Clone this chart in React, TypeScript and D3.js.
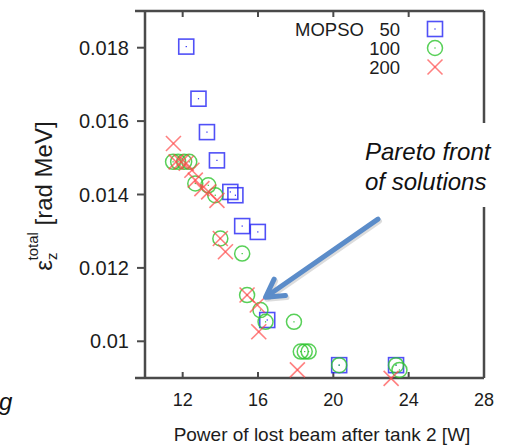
import React from 'react';
import * as d3 from 'd3';

// MOPSO runs with 50 / 100 / 200 particles
const seriesNames = ['50', '100', '200'];

const powerLoss50 = [12.19, 12.84, 13.29, 13.82, 14.53, 14.8, 15.16, 15.99, 16.49, 20.31, 23.33];
const emittance50 = [0.01803, 0.01661, 0.0157, 0.01493, 0.01407, 0.01398, 0.01314, 0.01298, 0.01058, 0.00935, 0.00935];

const powerLoss100 = [11.49, 11.76, 12.08, 12.35, 12.67, 13.36, 13.73, 14.0, 15.16, 15.42, 16.13, 16.4, 17.91, 18.27, 18.48, 18.69, 20.31, 23.33, 23.51];
const emittance100 = [0.01489, 0.01489, 0.01489, 0.01489, 0.0143, 0.01425, 0.01398, 0.0128, 0.01239, 0.01126, 0.01085, 0.01053, 0.01053, 0.00972, 0.00972, 0.00972, 0.00935, 0.00935, 0.00922];

const powerLoss200 = [11.51, 11.65, 11.92, 12.19, 12.49, 12.67, 13.02, 13.38, 13.82, 14.0, 14.27, 15.42, 15.96, 16.04, 18.09, 23.07];
const emittance200 = [0.01539, 0.01489, 0.01489, 0.01485, 0.01466, 0.01439, 0.01416, 0.01407, 0.01384, 0.0128, 0.01244, 0.01126, 0.01099, 0.01026, 0.00922, 0.00899];

const xTicks = [12, 16, 20, 24, 28];
const yTicks = [0.01, 0.012, 0.014, 0.016, 0.018];

const W = 519;
const H = 446;
const left = 145, right = 484, top = 11, bottom = 378;

const x = d3.scaleLinear().domain([10, 28]).range([left, right]);
const y = d3.scaleLinear().domain([0.009, 0.019]).range([bottom, top]);

const colors = ['#2424f5', '#2ec42e', '#ff4a4a'];
const font = '"Liberation Sans", Arial, sans-serif';

function Marker({ kind, cx, cy }: { kind: number; cx: number; cy: number }) {
  const s = 7.5;
  if (kind === 0) {
    return (
      <g stroke={colors[0]} strokeOpacity={0.8} fill="none" strokeWidth={1.6}>
        <rect x={cx - s} y={cy - s} width={2 * s} height={2 * s} />
        <rect x={cx - 0.6} y={cy - 0.6} width={1.2} height={1.2} fill={colors[0]} stroke="none" />
      </g>
    );
  }
  if (kind === 1) {
    return (
      <g stroke={colors[1]} strokeOpacity={0.8} fill="none" strokeWidth={1.5}>
        <circle cx={cx} cy={cy} r={s} />
        <rect x={cx - 0.6} y={cy - 0.6} width={1.2} height={1.2} fill={colors[1]} stroke="none" />
      </g>
    );
  }
  return (
    <g stroke={colors[2]} strokeOpacity={0.7} strokeWidth={1.6}>
      <line x1={cx - s} y1={cy - s} x2={cx + s} y2={cy + s} />
      <line x1={cx - s} y1={cy + s} x2={cx + s} y2={cy - s} />
    </g>
  );
}

export default function App() {
  const series = [
    { xs: powerLoss50, ys: emittance50 },
    { xs: powerLoss100, ys: emittance100 },
    { xs: powerLoss200, ys: emittance200 },
  ];

  // arrow annotation, in data coordinates
  const tipX = x(16.4), tipY = y(0.0112);
  const tailX = x(22.37), tailY = y(0.01333);
  const ang = Math.atan2(tailY - tipY, tailX - tipX);
  const hl = 20, ha = 0.52;
  const h1 = [tipX + hl * Math.cos(ang - ha), tipY + hl * Math.sin(ang - ha)];
  const h2 = [tipX + hl * Math.cos(ang + ha), tipY + hl * Math.sin(ang + ha)];

  const frame = '#4a4a4a';

  return (
    <svg width={W} height={H} style={{ position: 'absolute', left: 0, top: 0, background: '#fff' }} fontFamily={font}>
      {/* frame */}
      <g stroke={frame} strokeWidth={2.5} fill="none">
        <line x1={135} y1={top} x2={right} y2={top} />
        <line x1={135} y1={bottom} x2={right} y2={bottom} />
        <line x1={left} y1={top} x2={left} y2={bottom} />
        <line x1={right} y1={top} x2={right} y2={bottom} />
      </g>
      {/* ticks */}
      <g stroke={frame} strokeWidth={2}>
        {xTicks.slice(0, -1).map((t) => (
          <g key={t}>
            <line x1={x(t)} x2={x(t)} y1={bottom} y2={bottom - 6} />
            <line x1={x(t)} x2={x(t)} y1={top} y2={top + 6} />
          </g>
        ))}
        {yTicks.map((t) => (
          <line key={t} x1={left - 8} x2={left} y1={y(t)} y2={y(t)} />
        ))}
      </g>
      <g fill="#1c1c1c" fontSize={18} textAnchor="middle">
        {xTicks.map((t) => (
          <text key={t} x={x(t)} y={406}>{t}</text>
        ))}
      </g>
      <g fill="#1c1c1c" fontSize={20} textAnchor="end">
        {yTicks.map((t) => (
          <text key={t} x={129} y={y(t) + 7}>{t}</text>
        ))}
      </g>
      <text x={322} y={441} textAnchor="middle" fontSize={19} fill="#1c1c1c">
        Power of lost beam after tank 2 [W]
      </text>
      <text transform="translate(52,196) rotate(-90)" textAnchor="middle" fontSize={24} fill="#1c1c1c">
        <tspan>ε</tspan>
        <tspan fontSize={15} dy={5}>z</tspan>
        <tspan fontSize={15} dx={-8} dy={-19}>total</tspan>
        <tspan dy={14}> [rad MeV]</tspan>
      </text>

      {/* points */}
      {series.map((s, k) => (
        <g key={seriesNames[k]}>
          {s.xs.map((v, i) => (
            <Marker key={i} kind={k} cx={x(v)} cy={y(s.ys[i])} />
          ))}
        </g>
      ))}

      {/* legend */}
      <g fill="#1c1c1c" fontSize={18.5}>
        <text x={295} y={36}>MOPSO</text>
        {seriesNames.map((n, i) => (
          <g key={n}>
            <text x={400} y={36 + i * 19} textAnchor="end">{n}</text>
            <Marker kind={i} cx={435} cy={29 + i * 19} />
          </g>
        ))}
      </g>

      {/* annotation */}
      <rect x={356} y={123} width={163} height={84} fill="#fff" />
      <g fontSize={24} fontStyle="italic" fill="#111">
        <text x={365} y={160}>Pareto front</text>
        <text x={365} y={190}>of solutions</text>
      </g>
      <g fill="none" strokeLinecap="round" strokeLinejoin="round">
        <g stroke="#9a9a9a" strokeOpacity={0.35} strokeWidth={5} transform="translate(1.5,2)">
          <line x1={tailX} y1={tailY} x2={tipX + 2} y2={tipY - 1.5} />
          <polyline points={`${h1[0]},${h1[1]} ${tipX},${tipY} ${h2[0]},${h2[1]}`} />
        </g>
        <g stroke="#5b8cc9" strokeWidth={5}>
          <line x1={tailX} y1={tailY} x2={tipX + 2} y2={tipY - 1.5} />
          <polyline points={`${h1[0]},${h1[1]} ${tipX},${tipY} ${h2[0]},${h2[1]}`} />
        </g>
      </g>
      <text x={-1} y={410} fontSize={24} fontStyle="italic" fill="#111">g</text>
    </svg>
  );
}
